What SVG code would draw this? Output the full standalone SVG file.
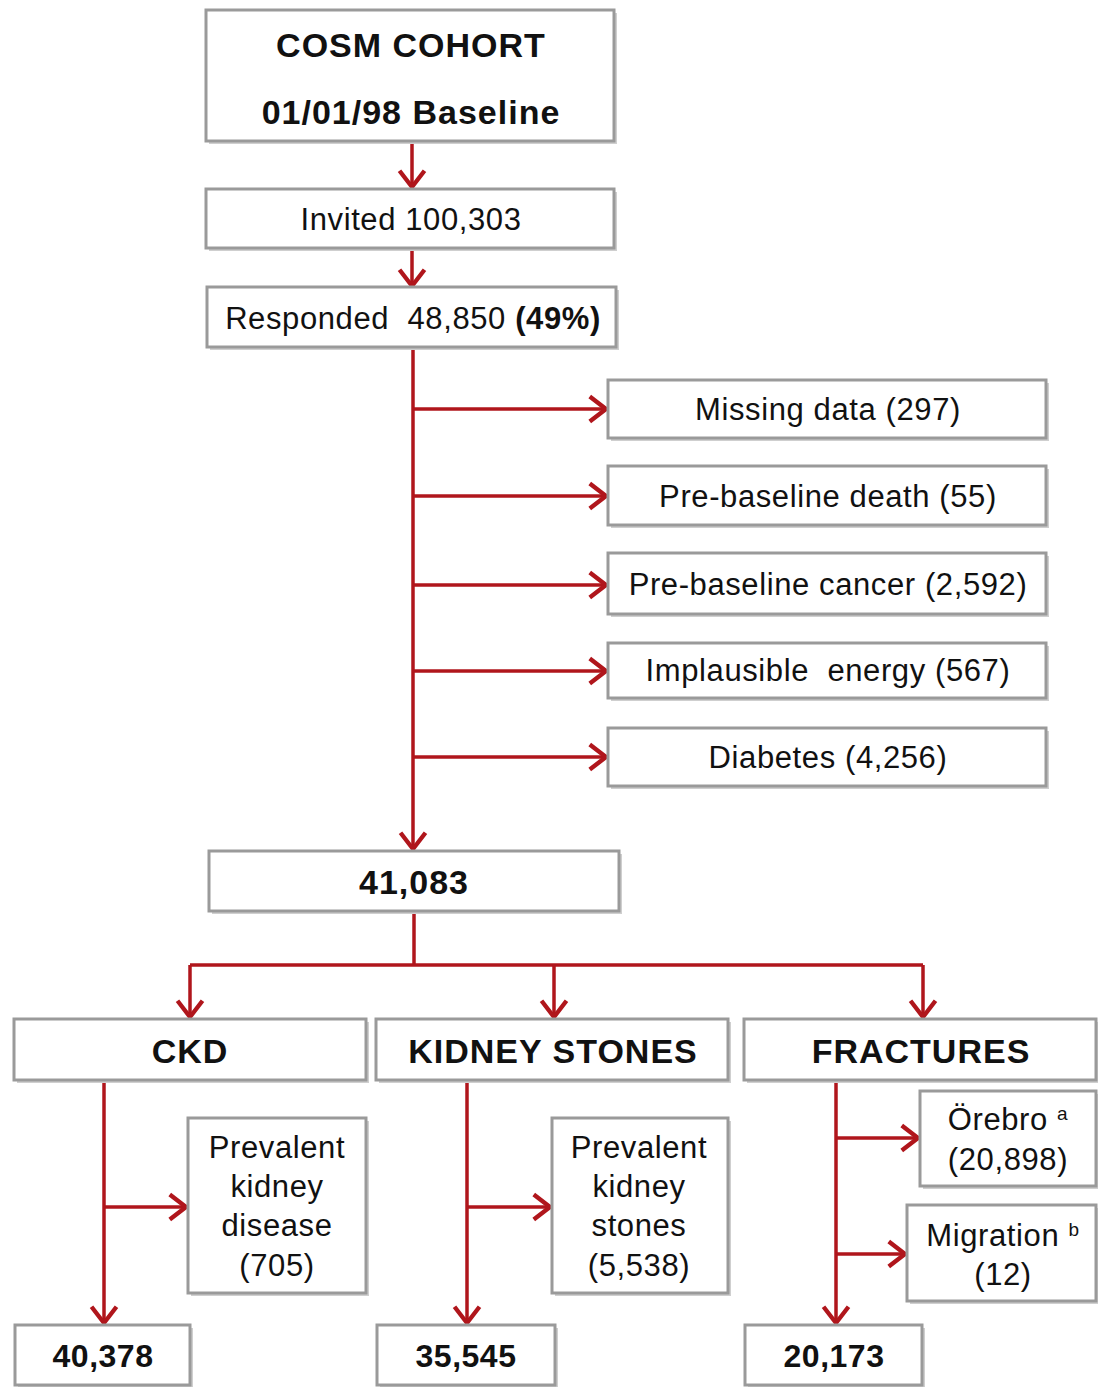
<svg xmlns="http://www.w3.org/2000/svg" width="1098" height="1387" viewBox="0 0 1098 1387">
<style>
.box{fill:#fff;stroke:#9a9a9a;stroke-width:3}
.sh{fill:#cfcfcf}
.t{font-family:"Liberation Sans",Arial,sans-serif;font-size:31px;letter-spacing:0.6px;fill:#111;text-anchor:middle}
.s{font-size:31px;letter-spacing:0.6px}
.b{font-weight:bold;font-size:34px;letter-spacing:1px}
.n{font-weight:bold;font-size:32px;letter-spacing:0.5px}
.c{fill:none;stroke:#b0161c;stroke-width:3.5}
</style>
<defs>
<marker id="ah" markerUnits="userSpaceOnUse" markerWidth="30" markerHeight="30" viewBox="-16 -12 20 24" refX="0" refY="0" orient="auto">
<path d="M-13,-10 L0,0 L-13,10" fill="none" stroke="#b0161c" stroke-width="3.5"/>
</marker>
</defs>
<rect width="1098" height="1387" fill="#fff"/>
<g id="connectors" class="c">
<path d="M412,141 V187" marker-end="url(#ah)"/>
<path d="M412,248 V286" marker-end="url(#ah)"/>
<path d="M413,347 V849" marker-end="url(#ah)"/>
<path d="M413,409 H606" marker-end="url(#ah)"/>
<path d="M413,496 H606" marker-end="url(#ah)"/>
<path d="M413,585 H606" marker-end="url(#ah)"/>
<path d="M413,671 H606" marker-end="url(#ah)"/>
<path d="M413,757 H606" marker-end="url(#ah)"/>
<path d="M414,911 V965"/>
<path d="M190,965 H923"/>
<path d="M190,965 V1017" marker-end="url(#ah)"/>
<path d="M554,965 V1017" marker-end="url(#ah)"/>
<path d="M923,965 V1017" marker-end="url(#ah)"/>
<path d="M104,1080 V1323" marker-end="url(#ah)"/>
<path d="M104,1207 H186" marker-end="url(#ah)"/>
<path d="M467,1080 V1323" marker-end="url(#ah)"/>
<path d="M467,1207 H550" marker-end="url(#ah)"/>
<path d="M836,1080 V1323" marker-end="url(#ah)"/>
<path d="M836,1138 H918" marker-end="url(#ah)"/>
<path d="M836,1254 H905" marker-end="url(#ah)"/>
</g>
<g id="cohort"><rect class="sh" x="209" y="13" width="408" height="131"/><rect class="box" x="206" y="10" width="408" height="131"/>
<text class="t b" x="411" y="57">COSM COHORT</text><text class="t b" x="411" y="124">01/01/98 Baseline</text></g>
<g id="invited"><rect class="sh" x="209" y="192" width="408" height="59"/><rect class="box" x="206" y="189" width="408" height="59"/>
<text class="t" x="411" y="230">Invited 100,303</text></g>
<g id="responded"><rect class="sh" x="210" y="290" width="409" height="60"/><rect class="box" x="207" y="287" width="409" height="60"/>
<text class="t" x="413" y="329">Responded&#160; 48,850 <tspan font-weight="bold">(49%)</tspan></text></g>
<g id="missing"><rect class="sh" x="611" y="383" width="438" height="58"/><rect class="box" x="608" y="380" width="438" height="58"/>
<text class="t s" x="828" y="420">Missing data (297)</text></g>
<g id="death"><rect class="sh" x="611" y="469" width="438" height="59"/><rect class="box" x="608" y="466" width="438" height="59"/>
<text class="t s" x="828" y="507">Pre-baseline death (55)</text></g>
<g id="cancer"><rect class="sh" x="611" y="556" width="438" height="61"/><rect class="box" x="608" y="553" width="438" height="61"/>
<text class="t s" x="828" y="595">Pre-baseline cancer (2,592)</text></g>
<g id="energy"><rect class="sh" x="611" y="646" width="438" height="55"/><rect class="box" x="608" y="643" width="438" height="55"/>
<text class="t s" x="828" y="681">Implausible&#160; energy (567)</text></g>
<g id="diabetes"><rect class="sh" x="611" y="731" width="438" height="58"/><rect class="box" x="608" y="728" width="438" height="58"/>
<text class="t s" x="828" y="768">Diabetes (4,256)</text></g>
<g id="total"><rect class="sh" x="212" y="854" width="410" height="60"/><rect class="box" x="209" y="851" width="410" height="60"/>
<text class="t b" x="414" y="894">41,083</text></g>
<g id="ckd"><rect class="sh" x="17" y="1022" width="352" height="61"/><rect class="box" x="14" y="1019" width="352" height="61"/>
<text class="t b" x="190" y="1063">CKD</text></g>
<g id="stones"><rect class="sh" x="379" y="1022" width="352" height="61"/><rect class="box" x="376" y="1019" width="352" height="61"/>
<text class="t b" x="553" y="1063">KIDNEY STONES</text></g>
<g id="fractures"><rect class="sh" x="747" y="1022" width="352" height="61"/><rect class="box" x="744" y="1019" width="352" height="61"/>
<text class="t b" x="921" y="1063">FRACTURES</text></g>
<g id="prev-kd"><rect class="sh" x="191" y="1121" width="178" height="175"/><rect class="box" x="188" y="1118" width="178" height="175"/>
<text class="t s" x="277" y="1158">Prevalent</text><text class="t s" x="277" y="1197">kidney</text><text class="t s" x="277" y="1236">disease</text><text class="t s" x="277" y="1276">(705)</text></g>
<g id="prev-ks"><rect class="sh" x="555" y="1121" width="176" height="175"/><rect class="box" x="552" y="1118" width="176" height="175"/>
<text class="t s" x="639" y="1158">Prevalent</text><text class="t s" x="639" y="1197">kidney</text><text class="t s" x="639" y="1236">stones</text><text class="t s" x="639" y="1276">(5,538)</text></g>
<g id="orebro"><rect class="sh" x="923" y="1094" width="176" height="95"/><rect class="box" x="920" y="1091" width="176" height="95"/>
<text class="t s" x="1008" y="1130">Örebro <tspan font-size="19" dy="-10">a</tspan></text><text class="t s" x="1008" y="1170">(20,898)</text></g>
<g id="migration"><rect class="sh" x="910" y="1208" width="189" height="96"/><rect class="box" x="907" y="1205" width="189" height="96"/>
<text class="t s" x="1003" y="1246">Migration <tspan font-size="19" dy="-10">b</tspan></text><text class="t s" x="1003" y="1285">(12)</text></g>
<g id="ckd-final"><rect class="sh" x="18" y="1328" width="175" height="60"/><rect class="box" x="15" y="1325" width="175" height="60"/>
<text class="t n" x="103" y="1367">40,378</text></g>
<g id="stones-final"><rect class="sh" x="380" y="1328" width="178" height="60"/><rect class="box" x="377" y="1325" width="178" height="60"/>
<text class="t n" x="466" y="1367">35,545</text></g>
<g id="fractures-final"><rect class="sh" x="748" y="1328" width="177" height="60"/><rect class="box" x="745" y="1325" width="177" height="60"/>
<text class="t n" x="834" y="1367">20,173</text></g>
</svg>
